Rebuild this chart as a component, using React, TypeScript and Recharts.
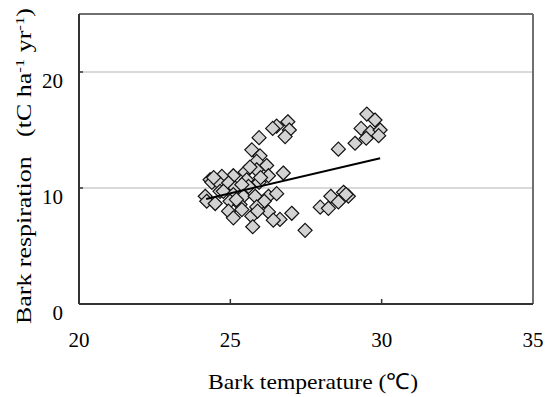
import React from "react";
import {
  ScatterChart,
  Scatter,
  XAxis,
  YAxis,
  CartesianGrid,
  ReferenceLine,
} from "recharts";

// Bark temperature (°C) and bark respiration (tC ha-1 yr-1), paired by index
const barkTemp = [
  29.51, 29.78, 29.32, 29.62, 29.49, 29.95, 29.9, 29.12, 28.57,
  27.97, 28.24, 28.32, 28.57, 28.74, 28.9, 28.82, 27.47, 27.03, 26.64,
  26.9, 26.53, 26.4, 26.95, 26.81, 25.95, 25.71, 25.98, 25.87, 26.2,
  26.75, 25.49, 25.87, 26.26, 25.1, 24.72, 24.33, 24.39, 24.61, 24.94,
  25.54, 25.6, 25.95, 25.16, 25.38, 24.66, 24.17, 24.22, 24.5, 24.77,
  25.1, 25.43, 25.82, 26.26, 26.53, 24.99, 25.32, 26.12, 25.87, 24.94,
  25.38, 26.26, 25.1, 25.71, 26.42, 25.74, 24.45, 25.65, 26.0, 25.2,
  25.9,
];
const barkResp = [
  16.37, 15.86, 15.14, 14.8, 14.29, 15.0, 14.51, 13.86, 13.35,
  8.35, 8.25, 9.29, 8.8, 9.63, 9.29, 9.45, 6.35, 7.82, 7.29,
  15.71, 15.34, 15.14, 15.0, 14.43, 14.34, 13.29, 12.77, 12.29, 11.94,
  11.29, 11.37, 11.57, 11.06, 11.06, 11.0, 10.71, 10.49, 10.49, 10.43,
  10.71, 10.14, 10.49, 10.0, 10.29, 9.71, 9.29, 8.86, 8.66, 9.71,
  9.43, 9.29, 9.29, 9.29, 9.51, 8.86, 8.57, 8.86, 8.37, 8.0,
  8.14, 7.94, 7.43, 7.57, 7.23, 6.66, 10.9, 11.8, 10.9, 9.0,
  8.0,
];

// Linear fit drawn across the observed temperature range
const trendTemp = [24.2, 29.95];
const trendResp = [9.05, 12.57];

const xTicks = [20, 25, 30, 35];
const yTicks = [0, 10, 20];

const points = barkTemp.map((t, i) => ({ x: t, y: barkResp[i] }));
const trend = trendTemp.map((t, i) => ({ x: t, y: trendResp[i] }));

const FONT = '"Liberation Serif", "Times New Roman", serif';

const Diamond = (props: any) => {
  const { cx, cy } = props;
  const r = 7;
  return (
    <path
      d={`M${cx},${cy - r}L${cx + r},${cy}L${cx},${cy + r}L${cx - r},${cy}Z`}
      fill="#d3d3d3"
      stroke="#111"
      strokeWidth={1.2}
    />
  );
};

const XTick = (props: any) => {
  const { x, y, payload } = props;
  return (
    <g>
      {payload.value !== 20 && payload.value !== 35 && (
        <line x1={x} x2={x} y1={y} y2={y - 5} stroke="#333" strokeWidth={1.5} />
      )}
      <text
        x={x}
        y={y + 43}
        textAnchor="middle"
        fontFamily={FONT}
        fontSize={21}
        fill="#000"
      >
        {payload.value}
      </text>
    </g>
  );
};

const YTick = (props: any) => {
  const { x, y, payload } = props;
  return (
    <g>
      {payload.value !== 0 && (
        <line x1={x} x2={x + 4} y1={y} y2={y} stroke="#333" strokeWidth={1.5} />
      )}
      <text
        x={x - 16}
        y={y + 16}
        textAnchor="end"
        fontFamily={FONT}
        fontSize={21}
        fill="#000"
      >
        {payload.value}
      </text>
    </g>
  );
};

export default function App() {
  return (
    <div style={{ position: "absolute", left: 0, top: 0, background: "#fff" }}>
      <ScatterChart
        width={549}
        height={397}
        margin={{ top: 14, right: 16, bottom: 63, left: 0 }}
      >
        <CartesianGrid vertical={false} stroke="#b4b4b4" strokeWidth={1} />
        <XAxis
          type="number"
          dataKey="x"
          domain={[20, 35]}
          ticks={xTicks}
          allowDataOverflow
          height={30}
          tickSize={0}
          tickMargin={0}
          tickLine={false}
          tick={<XTick />}
          axisLine={{ stroke: "#333", strokeWidth: 2 }}
        />
        <YAxis
          type="number"
          dataKey="y"
          domain={[0, 25]}
          ticks={yTicks}
          allowDataOverflow
          width={79}
          tickSize={0}
          tickMargin={0}
          tickLine={false}
          tick={<YTick />}
          axisLine={{ stroke: "#333", strokeWidth: 2 }}
        />
        <ReferenceLine y={25} stroke="#707070" strokeWidth={2} />
        <ReferenceLine x={35} stroke="#707070" strokeWidth={2} />
        <Scatter data={points} shape={<Diamond />} isAnimationActive={false} />
        <Scatter
          data={trend}
          line={{ stroke: "#000", strokeWidth: 2 }}
          shape={() => <g />}
          isAnimationActive={false}
        />
      </ScatterChart>
      <svg
        width={549}
        height={397}
        style={{ position: "absolute", left: 0, top: 0, pointerEvents: "none" }}
      >
        <text
          x={313}
          y={389}
          textAnchor="middle"
          fontFamily={FONT}
          fontSize={22}
          textLength={210}
          lengthAdjust="spacingAndGlyphs"
          fill="#000"
        >
          Bark temperature (℃)
        </text>
        <text
          transform="rotate(-90, 31, 166)"
          x={31}
          y={166}
          textAnchor="middle"
          fontFamily={FONT}
          fontSize={20}
          textLength={316}
          lengthAdjust="spacingAndGlyphs"
          fill="#000"
          xmlSpace="preserve"
        >
          Bark respiration{"   "}(tC ha
          <tspan dy={-7} fontSize={13}>-1</tspan>
          <tspan dy={7}> yr</tspan>
          <tspan dy={-7} fontSize={13}>-1</tspan>
          <tspan dy={7}>)</tspan>
        </text>
      </svg>
    </div>
  );
}
